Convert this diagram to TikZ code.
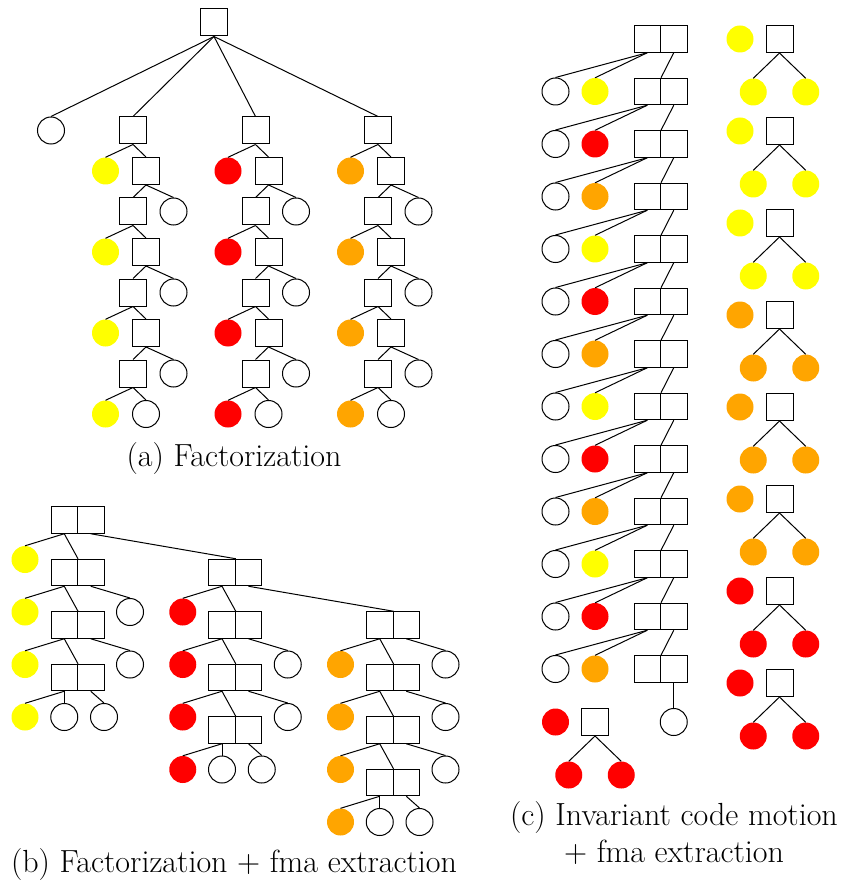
\documentclass[tikz,border=0pt]{standalone}
\definecolor{cy}{RGB}{255,255,0}
\definecolor{cr}{RGB}{255,0,0}
\definecolor{co}{RGB}{255,165,0}
\tikzset{
  sq/.style={draw, rectangle, minimum width=27pt, minimum height=27pt, inner sep=0pt, line width=1pt},
  hsq/.style={draw, rectangle, minimum width=26.5pt, minimum height=26.5pt, inner sep=0pt, line width=1pt},
  wc/.style={draw, circle, minimum size=27pt, inner sep=0pt, line width=1pt},
  fc/.style={circle, fill=#1, minimum size=27pt, inner sep=0pt},
  conn/.style={line width=1pt},
  captext/.style={font=\fontsize{32}{38}\selectfont, anchor=base, inner sep=0pt}
}
\begin{document}
\begin{tikzpicture}[x=1pt,y=-1pt]
\useasboundingbox (0,0) rectangle (841,882);
% ---------------- (a) ----------------
\node[sq] (aroot) at (214,22.5) {};
\node[wc] (a0) at (51,130.5) {};
\draw[conn] (aroot.south) -- (a0.north);
\foreach \c/\dx/\col in {1/0/cy,2/122.5/cr,3/245/co} {
  \node[sq] (a\c L1) at (133+\dx,130.5) {};
  \draw[conn] (aroot.south) -- (a\c L1.north);
  \foreach \k in {2,4,6} {
    \node[fc=\col] (a\c L\k) at (105.5+\dx,{130.5+40.5*(\k-1)}) {};
    \node[sq] (a\c R\k) at (146+\dx,{130.5+40.5*(\k-1)}) {};
  }
  \foreach \k in {3,5,7} {
    \node[sq] (a\c L\k) at (133+\dx,{130.5+40.5*(\k-1)}) {};
    \node[wc] (a\c R\k) at (173.5+\dx,{130.5+40.5*(\k-1)}) {};
  }
  \node[fc=\col] (a\c L8) at (105.5+\dx,414) {};
  \node[wc] (a\c R8) at (146+\dx,414) {};
  \foreach \k in {2,4,6,8} {
    \pgfmathtruncatemacro\p{\k-1}
    \draw[conn] (a\c L\p.south) -- (a\c L\k.north);
    \draw[conn] (a\c L\p.south) -- (a\c R\k.north);
  }
  \foreach \k in {3,5,7} {
    \pgfmathtruncatemacro\p{\k-1}
    \draw[conn] (a\c R\p.south) -- (a\c L\k.north);
    \draw[conn] (a\c R\p.south) -- (a\c R\k.north);
  }
}
\node[captext] (capa) at (234,466) {(a) Factorization};
% ---------------- (b) ----------------
\foreach \i/\col in {0/cy,1/cr,2/co} {
  \pgfmathsetmacro\X{77.5+157.75*\i}
  \pgfmathsetmacro\Yz{520+52.5*\i}
  \foreach \j in {0,1,2,3} {
    \node[hsq] (b\i d\j l) at ({\X-13.25},{\Yz+52.5*\j}) {};
    \node[hsq] (b\i d\j r) at ({\X+13.25},{\Yz+52.5*\j}) {};
    \node[fc=\col] (b\i c\j) at ({\X-52.5},{\Yz+52.5*\j+39.5}) {};
    \draw[conn] (b\i d\j l.south) -- (b\i c\j.north);
  }
  \foreach \j in {1,2} {
    \node[wc] (b\i w\j) at ({\X+52.5},{\Yz+52.5*\j+39.5}) {};
    \draw[conn] (b\i d\j r.south) -- (b\i w\j.north);
  }
  \foreach \j in {0,1,2} {
    \pgfmathtruncatemacro\n{\j+1}
    \draw[conn] (b\i d\j l.south) -- (b\i d\n l.north east);
  }
  \node[wc] (b\i m) at ({\X-13.25},{\Yz+52.5*3+39.5}) {};
  \node[wc] (b\i n) at ({\X+26.5},{\Yz+52.5*3+39.5}) {};
  \draw[conn] (b\i d3l.south) -- (b\i m.north);
  \draw[conn] (b\i d3r.south) -- (b\i n.north);
}
\draw[conn] (b0d0r.south) -- (b1d0l.north east);
\draw[conn] (b1d0r.south) -- (b2d0l.north east);
\node[wc] (b2w0) at ({393+52.5},{625+39.5}) {};
\draw[conn] (b2d0r.south) -- (b2w0.north);
\node[captext] (capb) at (234,872) {(b) Factorization + fma extraction};
% ---------------- (c) ----------------
\foreach \k in {0,...,12} {
  \node[hsq] (c\k l) at (647.25,{39+52.5*\k}) {};
  \node[hsq] (c\k r) at (673.75,{39+52.5*\k}) {};
}
\foreach \k/\col in {1/cy,2/cr,3/co,4/cy,5/cr,6/co,7/cy,8/cr,9/co,10/cy,11/cr,12/co} {
  \pgfmathtruncatemacro\p{\k-1}
  \node[wc] (cw\k) at (555.5,{39+52.5*\k}) {};
  \node[fc=\col] (cc\k) at (595,{39+52.5*\k}) {};
  \draw[conn] (c\p l.south) -- (cw\k.north);
  \draw[conn] (c\p l.south) -- (cc\k.north);
  \draw[conn] (c\p r.south) -- (c\k l.north east);
}
\node[wc] (cend) at (673.75,722) {};
\draw[conn] (c12r.south) -- (cend.north);
% bottom-left small tree
\node[fc=cr] (tr) at (555.5,722) {};
\node[sq] (ts) at (595,722) {};
\node[fc=cr] (ta) at (568.75,775) {};
\node[fc=cr] (tb) at (621.25,775) {};
\draw[conn] (ts.south) -- (ta.north);
\draw[conn] (ts.south) -- (tb.north);
% right column small trees
\foreach \j/\col in {0/cy,1/cy,2/cy,3/co,4/co,5/co,6/cr,7/cr} {
  \node[fc=\col] (r\j c) at (740,{39+92*\j}) {};
  \node[sq] (r\j s) at (779.5,{39+92*\j}) {};
  \node[fc=\col] (r\j a) at (753.25,{39+92*\j+53}) {};
  \node[fc=\col] (r\j b) at (805.75,{39+92*\j+53}) {};
  \draw[conn] (r\j s.south) -- (r\j a.north);
  \draw[conn] (r\j s.south) -- (r\j b.north);
}
\node[captext] (capc1) at (674,825) {(c) Invariant code motion};
\node[captext] (capc2) at (674,862) {+ fma extraction};
\end{tikzpicture}
\end{document}
